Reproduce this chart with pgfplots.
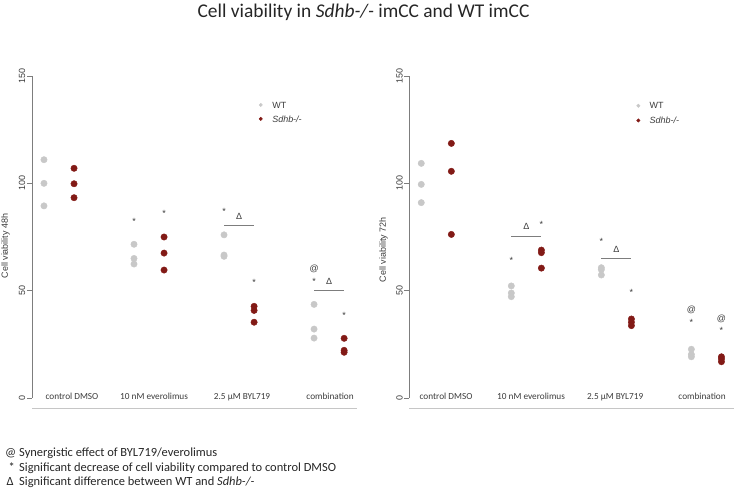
\documentclass[border=0pt]{standalone}
\usepackage{fontspec}
\setmainfont{Carlito}
\newfontfamily\arial{Liberation Sans}
\usepackage{pgfplots}
\pgfplotsset{compat=1.18}
\definecolor{wtgray}{RGB}{200,200,200}
\definecolor{sdred}{RGB}{130,26,22}
\definecolor{axgray}{RGB}{125,125,125}
\definecolor{txgray}{RGB}{60,60,60}
\pgfplotsset{
  myax/.style={
    scale only axis, width=325bp, height=322bp,
    xmin=0.70, xmax=4.31, ymin=0, ymax=150,
    axis x line=none, axis y line*=left,
    y axis line style={-, axgray, line width=0.6pt},
    ytick={0,50,100,150}, tick align=outside, major tick length=5bp,
    ytick style={axgray, line width=0.6pt},
    yticklabel style={rotate=90, anchor=south, inner sep=1.5bp, font=\arial\fontsize{9}{10}\selectfont, text=txgray},
    /pgf/number format/assume math mode=true,
    clip=false,
  },
  wt/.style={only marks, mark=*, mark size=3.2bp, color=wtgray},
  sd/.style={only marks, mark=*, mark size=3.2bp, color=sdred},
}
\tikzset{
  ann/.style={font=\arial\fontsize{9}{10}\selectfont, text=txgray},
  star/.style={ann, yshift=-2.2bp},
  cat/.style={anchor=base, font=\fontsize{9.3}{10}\selectfont, text=txgray},
  sig/.style={axgray, line width=0.8pt},
}
\begin{document}
\begin{tikzpicture}[x=1bp,y=1bp]
\path[use as bounding box] (0,0) rectangle (735,491);
\node[anchor=base, font=\fontsize{19.5}{22}\selectfont, text=black!85] at (363.5,473) {Cell viability in \textit{Sdhb-/-} imCC and WT imCC};

% ---------- left panel: 48h ----------
\begin{axis}[myax, at={(32bp,93bp)}, anchor=south west]
\addplot[wt] coordinates {(0.833,111) (0.833,100) (0.833,89.5)
  (1.833,71.6) (1.833,65) (1.833,62.4)
  (2.833,76) (2.833,66.6) (2.833,66)
  (3.833,43.6) (3.833,32.1) (3.833,27.9)};
\addplot[sd] coordinates {(1.167,107) (1.167,99.8) (1.167,93.3)
  (2.167,75) (2.167,67.5) (2.167,59.6)
  (3.167,42.7) (3.167,40.8) (3.167,35.3)
  (4.167,27.8) (4.167,22.2) (4.167,21.3)};
% legend
\addplot[only marks, mark=*, mark size=1.7bp, color=wtgray] coordinates {(3.241,136.5)};
\addplot[only marks, mark=*, mark size=1.7bp, color=sdred] coordinates {(3.241,130.0)};
\node[ann, anchor=west] at (axis cs:3.33,136.5) {WT};
\node[ann, anchor=west] at (axis cs:3.33,130.0) {\textit{Sdhb-/-}};
% annotations
\node[star] at (axis cs:1.833,83.5) {*};
\node[star] at (axis cs:2.167,86.8) {*};
\node[star] at (axis cs:2.833,88) {*};
\draw[sig] (axis cs:2.833,80.4) -- (axis cs:3.167,80.4);
\node[ann] at (axis cs:3.0,84.8) {Δ};
\node[star] at (axis cs:3.167,54.8) {*};
\node[ann] at (axis cs:3.833,60.1) {@};
\node[star] at (axis cs:3.833,55.4) {*};
\draw[sig] (axis cs:3.833,50.3) -- (axis cs:4.167,50.3);
\node[ann] at (axis cs:4.0,54.5) {Δ};
\node[star] at (axis cs:4.167,39.4) {*};
% category labels
\node[cat] at (axis cs:1.144,-0.6) {control DMSO};
\node[cat] at (axis cs:2.056,-0.6) {10 nM everolimus};
\node[cat] at (axis cs:3.033,-0.6) {2.5 µM BYL719};
\node[cat] at (axis cs:4.011,-0.6) {combination};
\draw[gray!45, line width=1pt] (axis cs:0.70,-5.1) -- (axis cs:4.31,-5.1);
\node[ann, rotate=90] at (axis cs:0.406,70.8) {Cell viability 48h};
\end{axis}

% ---------- right panel: 72h ----------
\begin{axis}[myax, at={(409.3bp,93bp)}, anchor=south west]
\addplot[wt] coordinates {(0.833,109.3) (0.833,99.5) (0.833,91)
  (1.833,52.2) (1.833,48.9) (1.833,47.2)
  (2.833,60.7) (2.833,59.8) (2.833,57.3)
  (3.833,22.7) (3.833,20.3) (3.833,19.2)};
\addplot[sd] coordinates {(1.167,118.6) (1.167,105.6) (1.167,76.2)
  (2.167,68.9) (2.167,67.7) (2.167,60.5)
  (3.167,36.8) (3.167,35.3) (3.167,33.7)
  (4.167,19.2) (4.167,18.2) (4.167,16.9)};
% legend
\addplot[only marks, mark=*, mark size=1.7bp, color=wtgray] coordinates {(3.244,136.1)};
\addplot[only marks, mark=*, mark size=1.7bp, color=sdred] coordinates {(3.244,129.3)};
\node[ann, anchor=west] at (axis cs:3.33,136.1) {WT};
\node[ann, anchor=west] at (axis cs:3.33,129.3) {\textit{Sdhb-/-}};
% annotations
\node[star] at (axis cs:1.833,65.2) {*};
\draw[sig] (axis cs:1.833,75.3) -- (axis cs:2.167,75.3);
\node[ann] at (axis cs:2.0,80.1) {Δ};
\node[star] at (axis cs:2.167,82) {*};
\node[star] at (axis cs:2.833,73.9) {*};
\draw[sig] (axis cs:2.833,65.2) -- (axis cs:3.167,65.2);
\node[ann] at (axis cs:3.0,69.4) {Δ};
\node[star] at (axis cs:3.167,50) {*};
\node[ann] at (axis cs:3.833,41) {@};
\node[star] at (axis cs:3.833,36) {*};
\node[ann] at (axis cs:4.167,37) {@};
\node[star] at (axis cs:4.167,32.3) {*};
% category labels
\node[cat] at (axis cs:1.108,-0.6) {control DMSO};
\node[cat] at (axis cs:2.052,-0.6) {10 nM everolimus};
\node[cat] at (axis cs:2.986,-0.6) {2.5 µM BYL719};
\node[cat] at (axis cs:3.952,-0.6) {combination};
\draw[gray!45, line width=1pt] (axis cs:0.70,-5.1) -- (axis cs:4.31,-5.1);
\node[ann, rotate=90] at (axis cs:0.413,69) {Cell viability 72h};
\end{axis}

% ---------- footnotes ----------
\begin{scope}[every node/.style={anchor=base west, font=\fontsize{12.5}{14}\selectfont, text=black!85, inner sep=0pt}]
\node at (5,34.5) {@};
\node at (19,34.5) {Synergistic effect of BYL719/everolimus};
\node at (8.5,19.5) {*};
\node at (19,19.5) {Significant decrease of cell viability compared to control DMSO};
\node at (6.5,5) {Δ};
\node at (19,5) {Significant difference between WT and \textit{Sdhb-/-}};
\end{scope}
\end{tikzpicture}
\end{document}
